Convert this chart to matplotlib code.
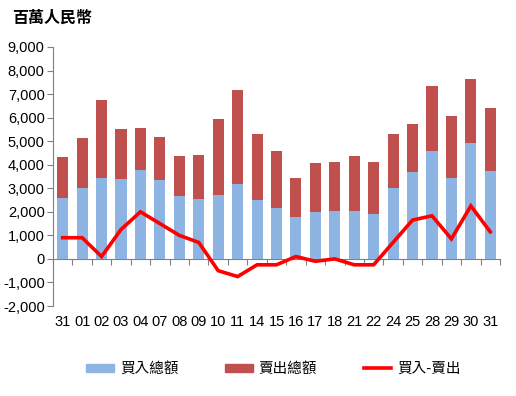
import matplotlib
matplotlib.use("Agg")
import matplotlib.pyplot as plt
from matplotlib.patches import Patch
from matplotlib.lines import Line2D
from matplotlib.ticker import FuncFormatter, FixedLocator
import matplotlib.transforms as mtransforms

plt.rcParams['font.family'] = ['Liberation Sans Narrow', 'Liberation Sans', 'Noto Sans CJK TC', 'DejaVu Sans']

categories = ["31", "01", "02", "03", "04", "07", "08", "09", "10", "11", "14", "15",
              "16", "17", "18", "21", "22", "24", "25", "28", "29", "30", "31"]
buy_total = [2600, 3010, 3440, 3400, 3780, 3350, 2670, 2550, 2720, 3180, 2500, 2160,
             1780, 2000, 2040, 2040, 1920, 3030, 3690, 4580, 3440, 4920, 3730]
stack_total = [4340, 5150, 6760, 5530, 5570, 5180, 4380, 4420, 5960, 7180, 5300, 4580,
               3440, 4070, 4120, 4370, 4120, 5300, 5730, 7340, 6070, 7640, 6410]
sell_total = [t - b for t, b in zip(stack_total, buy_total)]
net = [900, 900, 100, 1250, 2000, 1500, 1000, 700, -500, -750, -250, -250,
       100, -100, 0, -250, -250, 700, 1650, 1830, 850, 2250, 1150]

unit_label = "百萬人民幣"
legend_labels = ["買入總額", "賣出總額", "買入-賣出"]

blue = "#8DB4E2"
red = "#C0504D"
line_red = "#FF0000"

fig = plt.figure(figsize=(5.16, 3.96), dpi=100)
ax = fig.add_axes([53/516, 1 - 306/396, (500 - 53)/516, (306 - 47)/396])

x = list(range(len(categories)))
ax.bar(x, buy_total, width=0.57, color=blue, zorder=2)
ax.bar(x, sell_total, width=0.57, bottom=buy_total, color=red, zorder=2)
ax.plot(x, net, color=line_red, lw=2.6, zorder=3, solid_joinstyle='miter')

ax.set_xlim(-0.5, len(categories) - 0.5)
ax.set_ylim(-2000, 9000)
ax.set_yticks(range(-2000, 9001, 1000))
ax.yaxis.set_major_formatter(FuncFormatter(lambda v, p: f"{int(v):,}"))
ax.tick_params(axis='y', direction='out', length=4, color='#808080', labelsize=10.5, pad=2)

for s in ['top', 'right']:
    ax.spines[s].set_visible(False)
ax.spines['left'].set_color('#808080')
ax.spines['bottom'].set_color('#808080')
ax.spines['bottom'].set_position(('data', 0))
ax.spines['bottom'].set_zorder(1)

ax.xaxis.set_major_locator(FixedLocator([i + 0.5 for i in range(-1, len(categories))]))
ax.tick_params(axis='x', direction='out', length=4, color='#808080', labelbottom=False)

trans = mtransforms.blended_transform_factory(ax.transData, ax.transAxes)
for i, c in enumerate(categories):
    ax.text(i, -0.035, c, transform=trans, ha='center', va='top', fontsize=10.5)

fig.text(12/516, 1 - 18/396, unit_label, fontsize=11.5, fontweight='bold',
         family=['Noto Sans CJK TC', 'DejaVu Sans'], va='center', ha='left')

handles = [Patch(color=blue), Patch(color=red), Line2D([], [], color=line_red, lw=2.6)]
fig.legend(handles, legend_labels, loc='center', bbox_to_anchor=(0.53, 1 - 369/396), ncol=3,
           frameon=False, handlelength=1.9, handleheight=0.5, columnspacing=3.2, handletextpad=0.4,
           prop={'family': ['Noto Sans CJK TC', 'DejaVu Sans'], 'size': 10.5})

fig.savefig("out.png", dpi=100)
